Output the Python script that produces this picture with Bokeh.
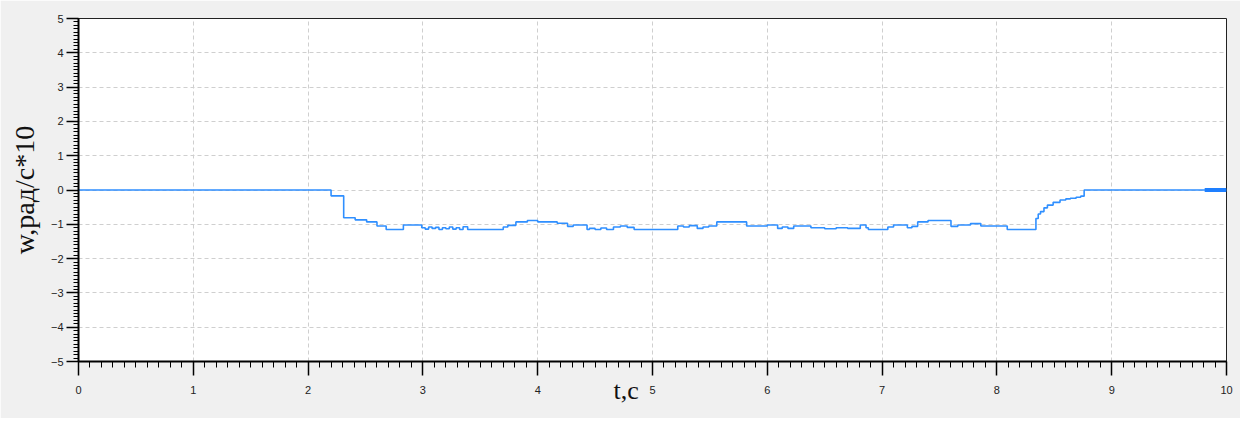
from bokeh.plotting import figure
from bokeh.models import Range1d, FixedTicker, Title
from bokeh.embed import file_html
from bokeh.resources import INLINE

# ---- data ----
t_s = [0.00, 2.20, 2.31, 2.41, 2.51, 2.60, 2.68, 2.83, 2.99, 3.02, 3.05, 3.08,
       3.11, 3.14, 3.17, 3.20, 3.23, 3.26, 3.29, 3.32, 3.35, 3.39, 3.70, 3.74,
       3.81, 3.91, 4.00, 4.17, 4.26, 4.31, 4.43, 4.45, 4.50, 4.55, 4.60, 4.66,
       4.72, 4.78, 4.84, 5.22, 5.27, 5.32, 5.39, 5.44, 5.49, 5.56, 5.82, 6.00,
       6.09, 6.13, 6.18, 6.23, 6.38, 6.50, 6.60, 6.70, 6.81, 6.86, 6.88, 7.05,
       7.10, 7.22, 7.26, 7.31, 7.40, 7.60, 7.66, 7.77, 7.86, 8.09, 8.34, 8.36,
       8.38, 8.41, 8.44, 8.49, 8.55, 8.60, 8.64, 8.69, 8.73, 8.76, 10.00]
w_s = [0.00, -0.17, -0.81, -0.87, -0.93, -1.05, -1.15, -1.02, -1.10, -1.14, -1.08, -1.12,
       -1.09, -1.15, -1.10, -1.13, -1.08, -1.14, -1.10, -1.15, -1.07, -1.15, -1.08, -1.03,
       -0.93, -0.89, -0.93, -0.97, -1.06, -1.02, -1.15, -1.12, -1.15, -1.11, -1.15, -1.08,
       -1.05, -1.09, -1.15, -1.05, -1.08, -1.04, -1.12, -1.08, -1.05, -0.93, -1.05, -1.02,
       -1.12, -1.08, -1.12, -1.05, -1.10, -1.13, -1.10, -1.12, -1.02, -1.10, -1.15, -1.08,
       -1.02, -1.10, -1.06, -0.93, -0.89, -1.06, -1.02, -0.98, -1.05, -1.15, -0.83, -0.70,
       -0.63, -0.52, -0.44, -0.36, -0.29, -0.26, -0.24, -0.21, -0.18, 0.00, 0.00]
end_t = [9.81, 10.00]
end_w = [0.00, 0.00]

x_ticks = [0, 1, 2, 3, 4, 5, 6, 7, 8, 9, 10]
y_ticks = [-5, -4, -3, -2, -1, 0, 1, 2, 3, 4, 5]
x_minor = [i / 10 for i in range(0, 101)]
y_minor = [i / 10 for i in range(-50, 51)]

x_label = "t,c"
y_label = "w,рад/с*10"

p = figure(width=1240, height=418, output_backend="svg", toolbar_location=None,
           x_range=Range1d(0, 10), y_range=Range1d(-5, 5))
p.min_border_left = 78
p.min_border_right = 14
p.min_border_top = 18
p.min_border_bottom = 57
p.border_fill_color = "#f0f0f0"
p.background_fill_color = "white"
p.outline_line_color = "#222222"
p.outline_line_width = 1

xt = FixedTicker(ticks=x_ticks, minor_ticks=x_minor)
yt = FixedTicker(ticks=y_ticks, minor_ticks=y_minor)
p.xaxis.ticker = xt
p.yaxis.ticker = yt
p.xgrid.ticker = xt
p.ygrid.ticker = yt
for g in (p.xgrid, p.ygrid):
    g.grid_line_color = "#cfcfcf"
    g.grid_line_dash = "4 3"
    g.grid_line_width = 1

for ax in (p.xaxis, p.yaxis):
    ax.axis_line_color = "black"
    ax.axis_line_width = 2
    ax.major_tick_line_color = "black"
    ax.major_tick_line_width = 1.5
    ax.minor_tick_line_color = "black"
    ax.minor_tick_line_width = 1
    ax.major_tick_in = 0
    ax.minor_tick_in = 0
    ax.major_label_text_font = "Liberation Sans"
    ax.major_label_text_font_size = "11px"
    ax.major_label_text_color = "#222222"

p.xaxis.major_tick_out = 14
p.xaxis.minor_tick_out = 6
p.xaxis.major_label_standoff = 10
p.yaxis.major_tick_out = 12
p.yaxis.minor_tick_out = 5
p.yaxis.major_label_standoff = 3

p.yaxis.axis_label = y_label
p.yaxis.axis_label_text_font = "Liberation Serif"
p.yaxis.axis_label_text_font_size = "28px"
p.yaxis.axis_label_text_font_style = "normal"
p.yaxis.axis_label_text_color = "#111111"
p.yaxis.axis_label_standoff = 8

p.step(t_s, w_s, mode="after", line_color="#2f8fff", line_width=1.6)
p.line(end_t, end_w, line_color="#1e7fff", line_width=4)

xt_title = Title(text=x_label, align="left", offset=535, standoff=-42,
                 vertical_align="top",
                 text_font="Liberation Serif", text_font_size="26px",
                 text_font_style="normal", text_color="#111111")
p.add_layout(xt_title, "below")

open("out.html", "w").write(file_html(p, INLINE))
